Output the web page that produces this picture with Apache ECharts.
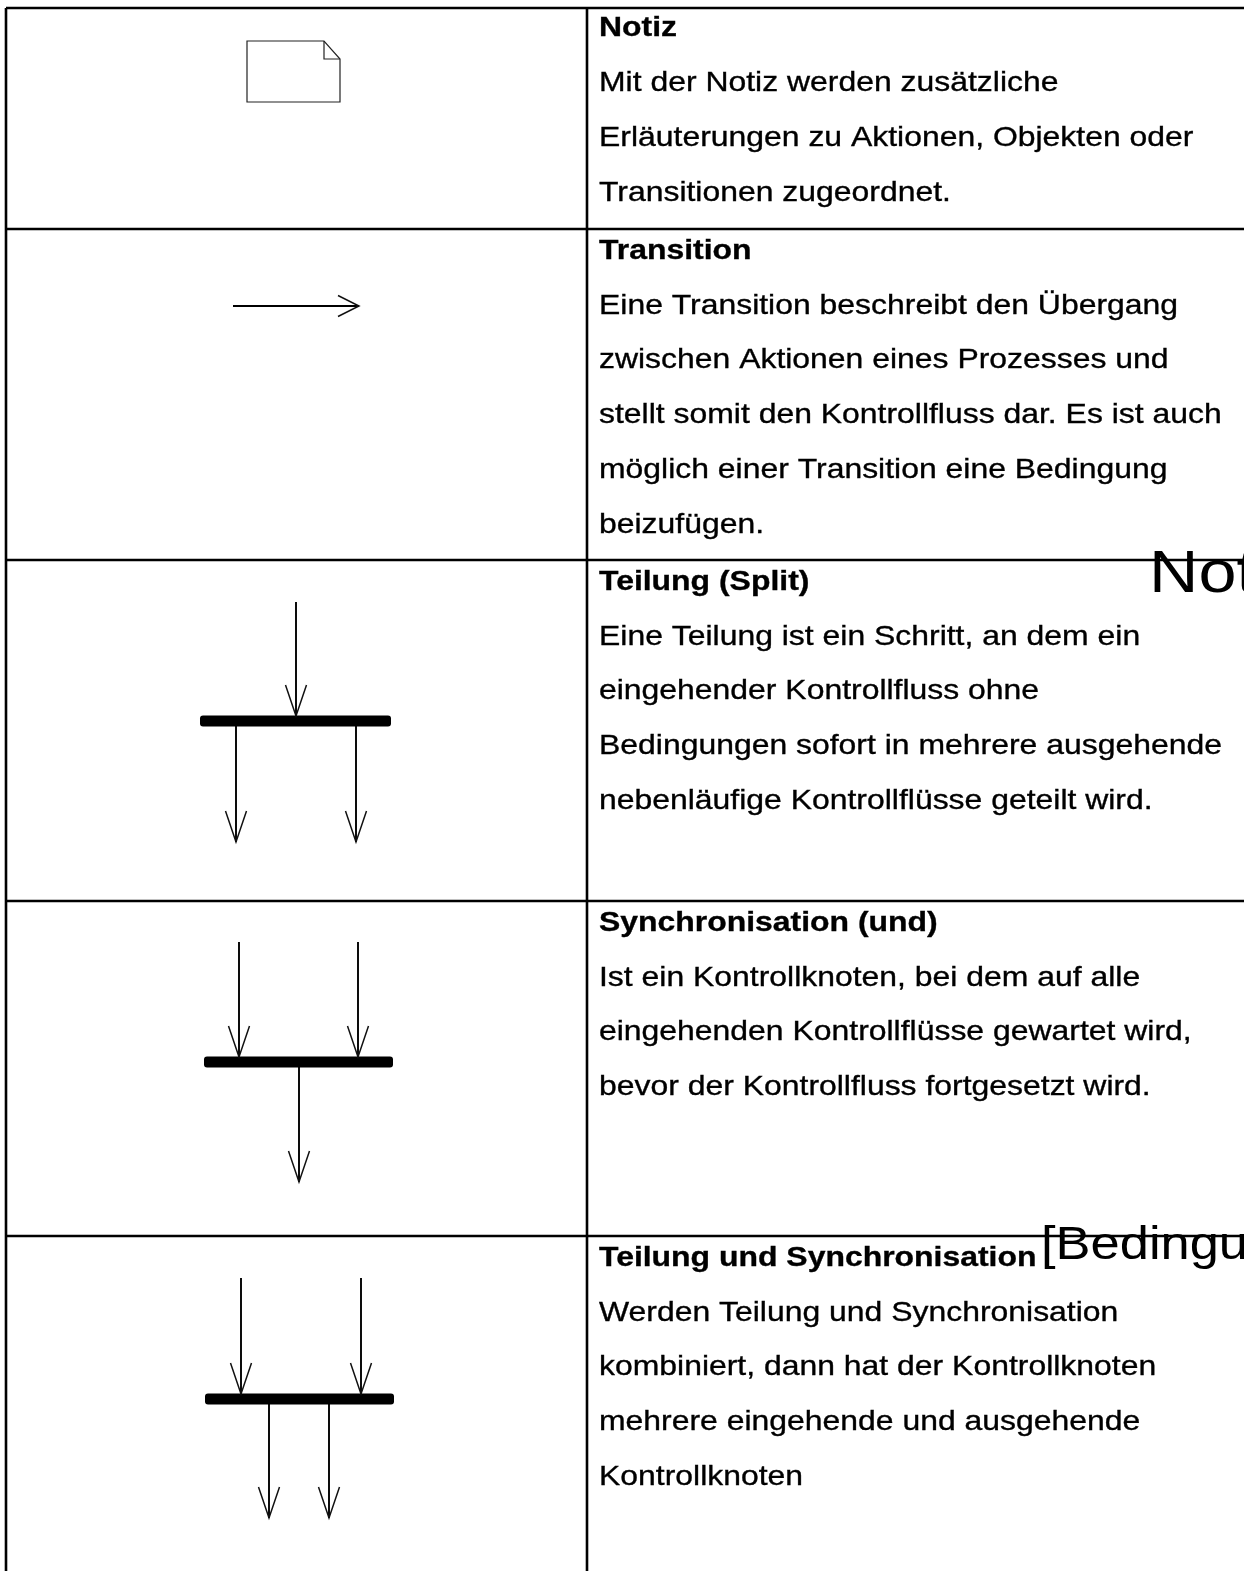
<!DOCTYPE html>
<html>
<head>
<meta charset="utf-8">
<script src="https://cdn.jsdelivr.net/npm/echarts@6/dist/echarts.min.js"></script>
<style>
html,body{margin:0;padding:0;background:#fff;}
#chart{width:1244px;height:1571px;}
</style>
</head>
<body>
<div id="chart"></div>
<script>
// ---- content ----
const rowTitles = ['Notiz', 'Transition', 'Teilung (Split)', 'Synchronisation (und)', 'Teilung und Synchronisation'];
const rowTexts = [
  ['Mit der Notiz werden zusätzliche', 'Erläuterungen zu Aktionen, Objekten oder', 'Transitionen zugeordnet.'],
  ['Eine Transition beschreibt den Übergang', 'zwischen Aktionen eines Prozesses und', 'stellt somit den Kontrollfluss dar. Es ist auch', 'möglich einer Transition eine Bedingung', 'beizufügen.'],
  ['Eine Teilung ist ein Schritt, an dem ein', 'eingehender Kontrollfluss ohne', 'Bedingungen sofort in mehrere ausgehende', 'nebenläufige Kontrollflüsse geteilt wird.'],
  ['Ist ein Kontrollknoten, bei dem auf alle', 'eingehenden Kontrollflüsse gewartet wird,', 'bevor der Kontrollfluss fortgesetzt wird.'],
  ['Werden Teilung und Synchronisation', 'kombiniert, dann hat der Kontrollknoten', 'mehrere eingehende und ausgehende', 'Kontrollknoten']
];
const overlayLabels = ['Notiz', '[Bedingung]'];

// ---- table and diagram geometry (diagram units) ----
const rowEdges = [8, 229, 560, 901, 1236];
const colEdges = [6, 587];
const noteOutline = [[247, 41], [324, 41], [340, 59], [340, 102], [247, 102]];
const noteFold = [[324, 41], [324, 59], [340, 59]];
const arrows = [
  [233, 306, 359, 306],
  [296, 602, 296, 716], [236, 726, 236, 842], [356, 726, 356, 842],
  [239, 942, 239, 1057], [358, 942, 358, 1057], [299, 1067, 299, 1182],
  [241, 1278, 241, 1394], [361, 1278, 361, 1394], [269, 1404, 269, 1518], [329, 1404, 329, 1518]
];
const bars = [[200, 391, 721], [204, 393, 1062], [205, 394, 1399]];

// ---- build ----
const W = 1244, H = 1571;
const FONT = "'Liberation Sans', Arial, sans-serif";
const STRETCH = 1.14;

const tableSegs = [];
rowEdges.forEach(y => tableSegs.push([colEdges[0], y, W + 20, y]));
colEdges.forEach(x => tableSegs.push([x, rowEdges[0], x, H + 20]));

const textItems = [];
rowTitles.forEach((t, i) => {
  const base = rowEdges[i] + (i === 0 ? 28.5 : 30);
  textItems.push({x: 599, y: base, text: t, bold: true, size: 28});
  rowTexts[i].forEach((line, k) => {
    textItems.push({x: 599, y: base + 54.8 * (k + 1), text: line, bold: false, size: 28});
  });
});
textItems.push({x: 1149, y: 593, text: overlayLabels[0], bold: false, size: 60});
textItems.push({x: 1041, y: 1259, text: overlayLabels[1], bold: false, size: 46});

const chart = echarts.init(document.getElementById('chart'), null, {renderer: 'canvas'});

function segRender(lineWidth, color) {
  return function (params, api) {
    const p1 = api.coord([api.value(0), api.value(1)]);
    const p2 = api.coord([api.value(2), api.value(3)]);
    return {type: 'line', shape: {x1: p1[0], y1: p1[1], x2: p2[0], y2: p2[1]},
      style: {stroke: color, lineWidth: lineWidth}, silent: true};
  };
}

chart.setOption({
  animation: false,
  backgroundColor: '#fff',
  grid: {left: 0, right: 0, top: 0, bottom: 0},
  xAxis: {type: 'value', min: 0, max: W, show: false},
  yAxis: {type: 'value', min: 0, max: H, inverse: true, show: false},
  series: [
    {
      type: 'custom', name: 'table', coordinateSystem: 'cartesian2d',
      dimensions: ['x1', 'y1', 'x2', 'y2'], encode: {x: [0, 2], y: [1, 3]},
      data: tableSegs, renderItem: segRender(2.6, '#000'), z: 1
    },
    {
      type: 'custom', name: 'note', coordinateSystem: 'cartesian2d',
      data: [[0]],
      renderItem: function (params, api) {
        const outline = noteOutline.map(p => api.coord(p));
        const fold = noteFold.map(p => api.coord(p));
        return {type: 'group', children: [
          {type: 'polygon', shape: {points: outline}, style: {fill: '#fff', stroke: '#222', lineWidth: 1.2}},
          {type: 'polyline', shape: {points: fold}, style: {fill: null, stroke: '#222', lineWidth: 1.2}}
        ]};
      }, z: 2
    },
    {
      type: 'custom', name: 'bars', coordinateSystem: 'cartesian2d',
      dimensions: ['x1', 'x2', 'y'], encode: {x: [0, 1], y: 2},
      data: bars,
      renderItem: function (params, api) {
        const a = api.coord([api.value(0), api.value(2)]);
        const b = api.coord([api.value(1), api.value(2)]);
        return {type: 'rect', shape: {x: a[0], y: a[1] - 5.5, width: b[0] - a[0], height: 11, r: 3},
          style: {fill: '#000'}};
      }, z: 3
    },
    {
      type: 'custom', name: 'arrows', coordinateSystem: 'cartesian2d',
      dimensions: ['x1', 'y1', 'x2', 'y2'], encode: {x: [0, 2], y: [1, 3]},
      data: arrows,
      renderItem: function (params, api) {
        const p1 = api.coord([api.value(0), api.value(1)]);
        const p2 = api.coord([api.value(2), api.value(3)]);
        const dx = p2[0] - p1[0], dy = p2[1] - p1[1];
        const len = Math.sqrt(dx * dx + dy * dy);
        const ux = dx / len, uy = dy / len;
        const horiz = Math.abs(ux) > 0.5;
        const L = horiz ? 21 : 31, hw = 10.5;
        const bx = p2[0] - ux * L, by = p2[1] - uy * L;
        return {type: 'group', children: [
          {type: 'line', shape: {x1: p1[0], y1: p1[1], x2: p2[0], y2: p2[1]},
            style: {stroke: '#000', lineWidth: 1.9}},
          {type: 'polyline', shape: {points: [[bx - uy * hw, by + ux * hw], [p2[0], p2[1]], [bx + uy * hw, by - ux * hw]]},
            style: {fill: null, stroke: '#111', lineWidth: 1.5}}
        ]};
      }, z: 4
    },
    {
      type: 'custom', name: 'texts', coordinateSystem: 'cartesian2d',
      dimensions: ['x', 'y'],
      data: textItems.map(t => [t.x, t.y]),
      renderItem: function (params, api) {
        const t = textItems[params.dataIndex];
        const p = api.coord([api.value(0), api.value(1)]);
        return {type: 'text', x: p[0], y: p[1] + 0.215 * t.size, scaleX: STRETCH, scaleY: 1,
          style: {text: t.text, x: 0, y: 0, fill: '#000', fontFamily: FONT,
            fontSize: t.size, fontWeight: t.bold ? 'bold' : 'normal',
            textAlign: 'left', verticalAlign: 'bottom',
            stroke: '#000', lineWidth: t.size > 40 ? 0 : 0.35}};
      }, z: 5
    }
  ]
});
</script>
</body>
</html>
